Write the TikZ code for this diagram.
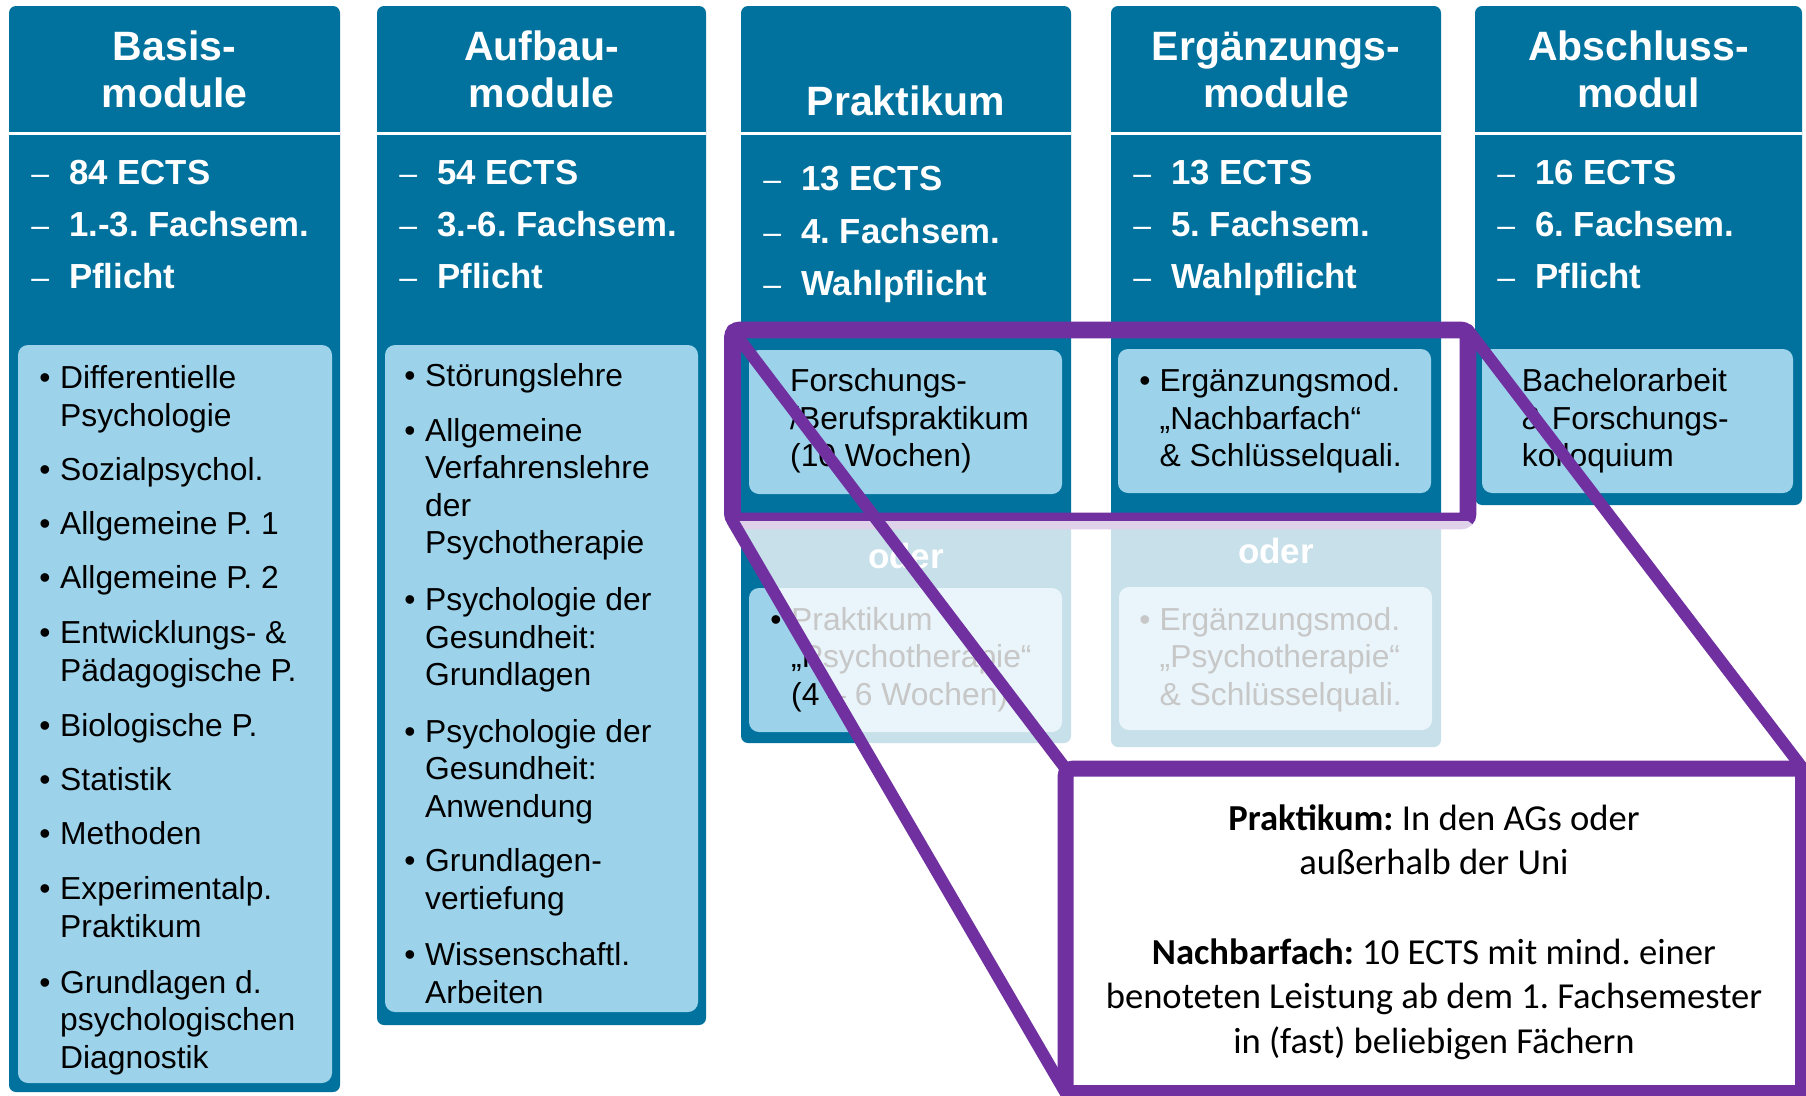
\documentclass[tikz,border=0pt]{standalone}
\usepackage{fontspec}
\setmainfont{Liberation Sans}
\newfontfamily\calib{Carlito}
\frenchspacing
\definecolor{dk}{RGB}{0,114,157}
\definecolor{lt}{RGB}{157,211,234}
\definecolor{pu}{RGB}{112,48,160}
\newcommand{\mylines}[1]{\begin{tabular}[t]{@{}l@{}}#1\end{tabular}}
\newcommand{\mycenter}[1]{\begin{tabular}[t]{@{}c@{}}#1\end{tabular}}
\newcommand{\dsh}{{\mdseries\fontsize{32}{52.3}\selectfont –}}
\newcommand{\myprops}[3]{\begin{tabular}[t]{@{}l@{\hspace{20.1pt}}l@{}}\dsh & #1\\ \dsh & #2\\ \dsh & #3\end{tabular}}
\newcommand{\bitem}[5]{\node[bul] (#1b) at (#2,#4) {\textbullet}; \node[itm] (#1) at (#3,#4) {\mylines{#5}};}
\tikzset{
  colbg/.style={fill=dk, rounded corners=7pt},
  boxbg/.style={fill=lt, rounded corners=10pt},
  sepline/.style={draw=white, line width=2.5pt},
  hdr/.style={font=\bfseries\fontsize{41}{47}\selectfont, text=white, anchor=base, inner sep=0pt},
  props/.style={font=\bfseries\fontsize{34.8}{52.3}\selectfont, text=white, anchor=base west, inner sep=0pt},
  itm/.style={font=\fontsize{31.8}{37.5}\selectfont, text=black, anchor=base west, inner sep=0pt},
  bul/.style={font=\fontsize{31.8}{37.5}\selectfont, text=black, anchor=base, inner sep=0pt},
  oder/.style={font=\bfseries\fontsize{35}{42}\selectfont, text=white, anchor=base, inner sep=0pt},
  selbox/.style={draw=pu, line width=16.7pt, rounded corners=7pt, minimum width=735.5pt, minimum height=191pt, inner sep=0pt, outer sep=0pt},
  callframe/.style={minimum width=737.3pt, minimum height=324.3pt, inner sep=0pt, outer sep=0pt},
  calloutline/.style={draw=pu, fill=white, line width=16pt, rounded corners=7pt},
  zoomline/.style={draw=pu, line width=12pt, line cap=round},
  fade/.style={fill=white, fill opacity=0.78},
  calltext/.style={font=\calib\fontsize{36.6}{44.7}\selectfont, text=black, anchor=base, inner sep=0pt},
}
\begin{document}
\begin{tikzpicture}[x=1pt,y=-1pt]
\useasboundingbox (0,0) rectangle (1806,1095);
\fill[white] (0,0) rectangle (1806,1095);
% columns
\fill[colbg] (9,6) rectangle (340,1092);
\fill[colbg] (377,6) rectangle (706,1025);
\fill[colbg] (741,6) rectangle (1071,743);
\fill[colbg] (1111,6) rectangle (1441,747);
\fill[colbg] (1475,6) rectangle (1802,505);
\draw[sepline] (9,133.3) -- (340,133.3);
\draw[sepline] (377,133.3) -- (706,133.3);
\draw[sepline] (741,133.3) -- (1071,133.3);
\draw[sepline] (1111,133.3) -- (1441,133.3);
\draw[sepline] (1475,133.3) -- (1802,133.3);
% light boxes
\fill[boxbg] (18,345) rectangle (332,1083);
\fill[boxbg] (385,345) rectangle (698,1012);
\fill[boxbg] (749,350) rectangle (1062,494);
\fill[boxbg] (749,588) rectangle (1062,732);
\fill[boxbg] (1118,349) rectangle (1431,493);
\fill[boxbg] (1119,587) rectangle (1432,730);
\fill[boxbg] (1482,349) rectangle (1793,493);
% headers
\node[hdr] (h1) at (174.5,60) {\mycenter{Basis-\\module}};
\node[hdr] (h2) at (541.5,60) {\mycenter{Aufbau-\\module}};
\node[hdr] (h3) at (906,115) {Praktikum};
\node[hdr] (h4) at (1276,60) {\mycenter{Ergänzungs-\\module}};
\node[hdr] (h5) at (1638.5,60) {\mycenter{Abschluss-\\modul}};
% properties
\node[props] (p1) at (31.1,184.3) {\myprops{84 ECTS}{1.-3. Fachsem.}{Pflicht}};
\node[props] (p2) at (399.1,184.3) {\myprops{54 ECTS}{3.-6. Fachsem.}{Pflicht}};
\node[props] (p3) at (763.1,190.7) {\myprops{13 ECTS}{4. Fachsem.}{Wahlpflicht}};
\node[props] (p4) at (1133.1,184.3) {\myprops{13 ECTS}{5. Fachsem.}{Wahlpflicht}};
\node[props] (p5) at (1497.1,184.3) {\myprops{16 ECTS}{6. Fachsem.}{Pflicht}};
% column 1 list
\bitem{a1}{45}{60}{388.5}{Differentielle\\Psychologie}
\bitem{a2}{45}{60}{480}{Sozialpsychol.}
\bitem{a3}{45}{60}{534}{Allgemeine P. 1}
\bitem{a4}{45}{60}{588.5}{Allgemeine P. 2}
\bitem{a5}{45}{60}{643.7}{Entwicklungs- \&\\Pädagogische P.}
\bitem{a6}{45}{60}{736}{Biologische P.}
\bitem{a7}{45}{60}{790}{Statistik}
\bitem{a8}{45}{60}{844.6}{Methoden}
\bitem{a9}{45}{60}{899.8}{Experimentalp.\\Praktikum}
\bitem{a10}{45}{60}{993.4}{Grundlagen d.\\psychologischen\\Diagnostik}
% column 2 list
\bitem{b1}{410}{425}{386}{Störungslehre}
\bitem{b2}{410}{425}{441}{Allgemeine\\Verfahrenslehre\\der\\Psychotherapie}
\bitem{b3}{410}{425}{610.5}{Psychologie der\\Gesundheit:\\Grundlagen}
\bitem{b4}{410}{425}{742}{Psychologie der\\Gesundheit:\\Anwendung}
\bitem{b5}{410}{425}{871.5}{Grundlagen-\\vertiefung}
\bitem{b6}{410}{425}{965.6}{Wissenschaftl.\\Arbeiten}
% column 3
\node[itm] (c1) at (790,391.7) {\mylines{Forschungs-\\/Berufspraktikum\\(10 Wochen)}};
\node[oder] (o3) at (906,568) {oder};
\bitem{c2}{776}{791}{630}{Praktikum\\„Psychotherapie“\\(4 – 6 Wochen)}
% column 4
\bitem{d1}{1145}{1159.5}{391.7}{Ergänzungsmod.\\„Nachbarfach“\\\& Schlüsselquali.}
\node[oder] (o4) at (1276,563) {oder};
\bitem{d2}{1145}{1159.5}{630}{Ergänzungsmod.\\„Psychotherapie“\\\& Schlüsselquali.}
% column 5
\node[itm] (e1) at (1521.7,391.7) {\mylines{Bachelorarbeit\\\& Forschungs-\\kolloquium}};
% selection and zoom callout
\node[selbox] (sel) at (1100.25,425.5) {};
\path node[callframe] (call) at (1434.35,930.85) {};
\fill[fade] (sel.south west) -- (sel.south east) -- (call.north east) -- (call.south east) -- (call.south west) -- cycle;
\draw[zoomline] (sel.north west) -- (call.north west);
\draw[zoomline] (sel.south west) -- (call.south west);
\draw[zoomline] (sel.north east) -- (call.north east);
\draw[calloutline] (call.north west) rectangle (call.south east);
\node[calltext] (ctext) at (1434,830) {\mycenter{\textbf{Praktikum:} In den AGs oder\\außerhalb der Uni\\ \mbox{}\\\textbf{Nachbarfach:} 10 ECTS mit mind. einer\\benoteten Leistung ab dem 1. Fachsemester\\in (fast) beliebigen Fächern}};
\end{tikzpicture}
\end{document}
